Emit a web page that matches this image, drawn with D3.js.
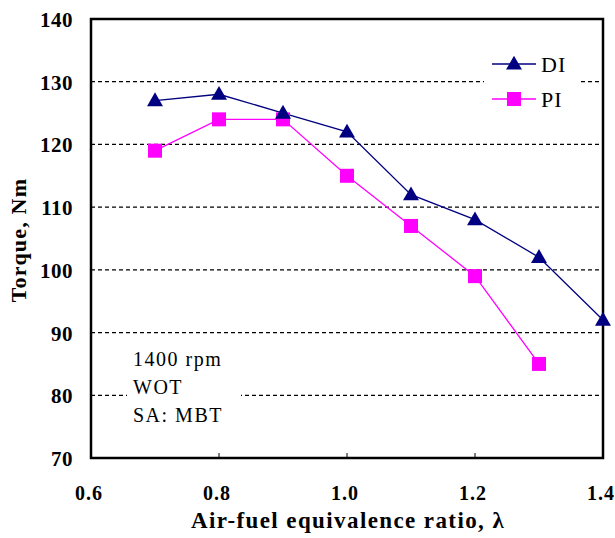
<!DOCTYPE html>
<html>
<head>
<meta charset="utf-8">
<script src="https://cdn.jsdelivr.net/npm/d3@7"></script>
<style>
  body { margin: 0; background: #fff; }
</style>
</head>
<body>
<script>
// values
let lambda = [0.7, 0.8, 0.9, 1.0, 1.1, 1.2, 1.3, 1.4]
let torqueDI = [127, 128, 125, 122, 112, 108, 102, 92]
let torquePI = [119, 124, 124, 115, 107, 99, 85]
let xTicks = [0.6, 0.8, 1.0, 1.2, 1.4]
let yTicks = [70, 80, 90, 100, 110, 120, 130, 140]
let notes = ["1400 rpm", "WOT", "SA: MBT"]

const width = 615
const height = 538
const margin = { left: 91, right: 12, top: 19, bottom: 80 }

let svg = d3.select("body").append("svg")
    .attr("width", width).attr("height", height)
    .attr("font-family", "Liberation Serif")

let x = d3.scaleLinear().domain([0.6, 1.4]).range([margin.left, width - margin.right])
let y = d3.scaleLinear().domain([70, 140]).range([height - margin.bottom, margin.top])

// dashed grid
svg.append("g").selectAll("line")
    .data(yTicks.slice(1, -1))
    .enter().append("line")
    .attr("x1", x(0.6)).attr("x2", x(1.4))
    .attr("y1", d => y(d)).attr("y2", d => y(d))
    .attr("stroke", "#000").attr("stroke-width", 1.2)
    .attr("stroke-dasharray", "4,3")

// white boxes behind legend and notes
svg.append("rect").attr("x", 484).attr("y", 46).attr("width", 94).attr("height", 70).attr("fill", "#fff")
svg.append("rect").attr("x", 127).attr("y", 342).attr("width", 114).attr("height", 90).attr("fill", "#fff")

// tick labels
svg.append("g").selectAll("text")
    .data(yTicks).enter().append("text")
    .attr("x", x(0.6) - 18).attr("y", d => y(d) + 8)
    .attr("text-anchor", "end")
    .attr("font-size", 21).attr("font-weight", "bold")
    .attr("letter-spacing", 0.5)
    .text(d => d)

svg.append("g").selectAll("text")
    .data(xTicks).enter().append("text")
    .attr("x", d => x(d) - 2).attr("y", y(70) + 42)
    .attr("text-anchor", "middle")
    .attr("font-size", 20).attr("font-weight", "bold")
    .attr("letter-spacing", 1)
    .text(d => d.toFixed(1))

// small inward ticks on the x axis
svg.append("g").selectAll("line")
    .data(xTicks.slice(1, -1)).enter().append("line")
    .attr("x1", d => x(d)).attr("x2", d => x(d))
    .attr("y1", y(70)).attr("y2", y(70) - 5)
    .attr("stroke", "#000").attr("stroke-width", 1)

// frame
svg.append("rect")
    .attr("x", x(0.6)).attr("y", y(140))
    .attr("width", x(1.4) - x(0.6)).attr("height", y(70) - y(140))
    .attr("fill", "none").attr("stroke", "#000").attr("stroke-width", 2.5)

// axis titles
svg.append("text")
    .attr("x", 348).attr("y", 528)
    .attr("text-anchor", "middle")
    .attr("font-size", 23).attr("font-weight", "bold")
    .attr("letter-spacing", 1.4)
    .text("Air-fuel equivalence ratio, λ")

svg.append("text")
    .attr("transform", "translate(26,240) rotate(-90)")
    .attr("text-anchor", "middle")
    .attr("font-size", 22).attr("font-weight", "bold")
    .attr("letter-spacing", 1.2)
    .text("Torque, Nm")

let line = d3.line().x(d => x(d[0])).y(d => y(d[1]))
let diData = lambda.map((l, i) => [l, torqueDI[i]])
let piData = lambda.slice(0, torquePI.length).map((l, i) => [l, torquePI[i]])

let triangle = d3.symbol().type(d3.symbolTriangle).size(110)

svg.append("path").datum(diData)
    .attr("d", line).attr("fill", "none").attr("stroke", "#000080").attr("stroke-width", 1.3)
svg.append("path").datum(piData)
    .attr("d", line).attr("fill", "none").attr("stroke", "#ff00ff").attr("stroke-width", 1.3)

svg.append("g").selectAll("rect")
    .data(piData).enter().append("rect")
    .attr("x", d => x(d[0]) - 7).attr("y", d => y(d[1]) - 7)
    .attr("width", 14).attr("height", 14)
    .attr("fill", "#ff00ff")

svg.append("g").selectAll("path")
    .data(diData).enter().append("path")
    .attr("d", triangle)
    .attr("transform", d => "translate(" + x(d[0]) + "," + (y(d[1]) + 1) + ")")
    .attr("fill", "#000080")

// legend
let legend = [
    { name: "DI", color: "#000080", y: 64 },
    { name: "PI", color: "#ff00ff", y: 99 }
]
let lg = svg.append("g").selectAll("g").data(legend).enter().append("g")
lg.append("line")
    .attr("x1", 492).attr("x2", 536)
    .attr("y1", d => d.y).attr("y2", d => d.y)
    .attr("stroke", d => d.color).attr("stroke-width", 1.3)
lg.filter(d => d.name == "DI").append("path")
    .attr("d", triangle)
    .attr("transform", d => "translate(514," + (d.y + 1) + ")")
    .attr("fill", d => d.color)
lg.filter(d => d.name == "PI").append("rect")
    .attr("x", 507).attr("y", d => d.y - 7)
    .attr("width", 14).attr("height", 14)
    .attr("fill", d => d.color)
lg.append("text")
    .attr("x", 541).attr("y", d => d.y + 8)
    .attr("font-size", 22)
    .attr("letter-spacing", 1)
    .text(d => d.name)

// notes
svg.append("g").selectAll("text")
    .data(notes).enter().append("text")
    .attr("x", 133).attr("y", (d, i) => 366 + i * 28)
    .attr("font-size", 20)
    .attr("letter-spacing", 1.5)
    .text(d => d)
</script>
</body>
</html>
